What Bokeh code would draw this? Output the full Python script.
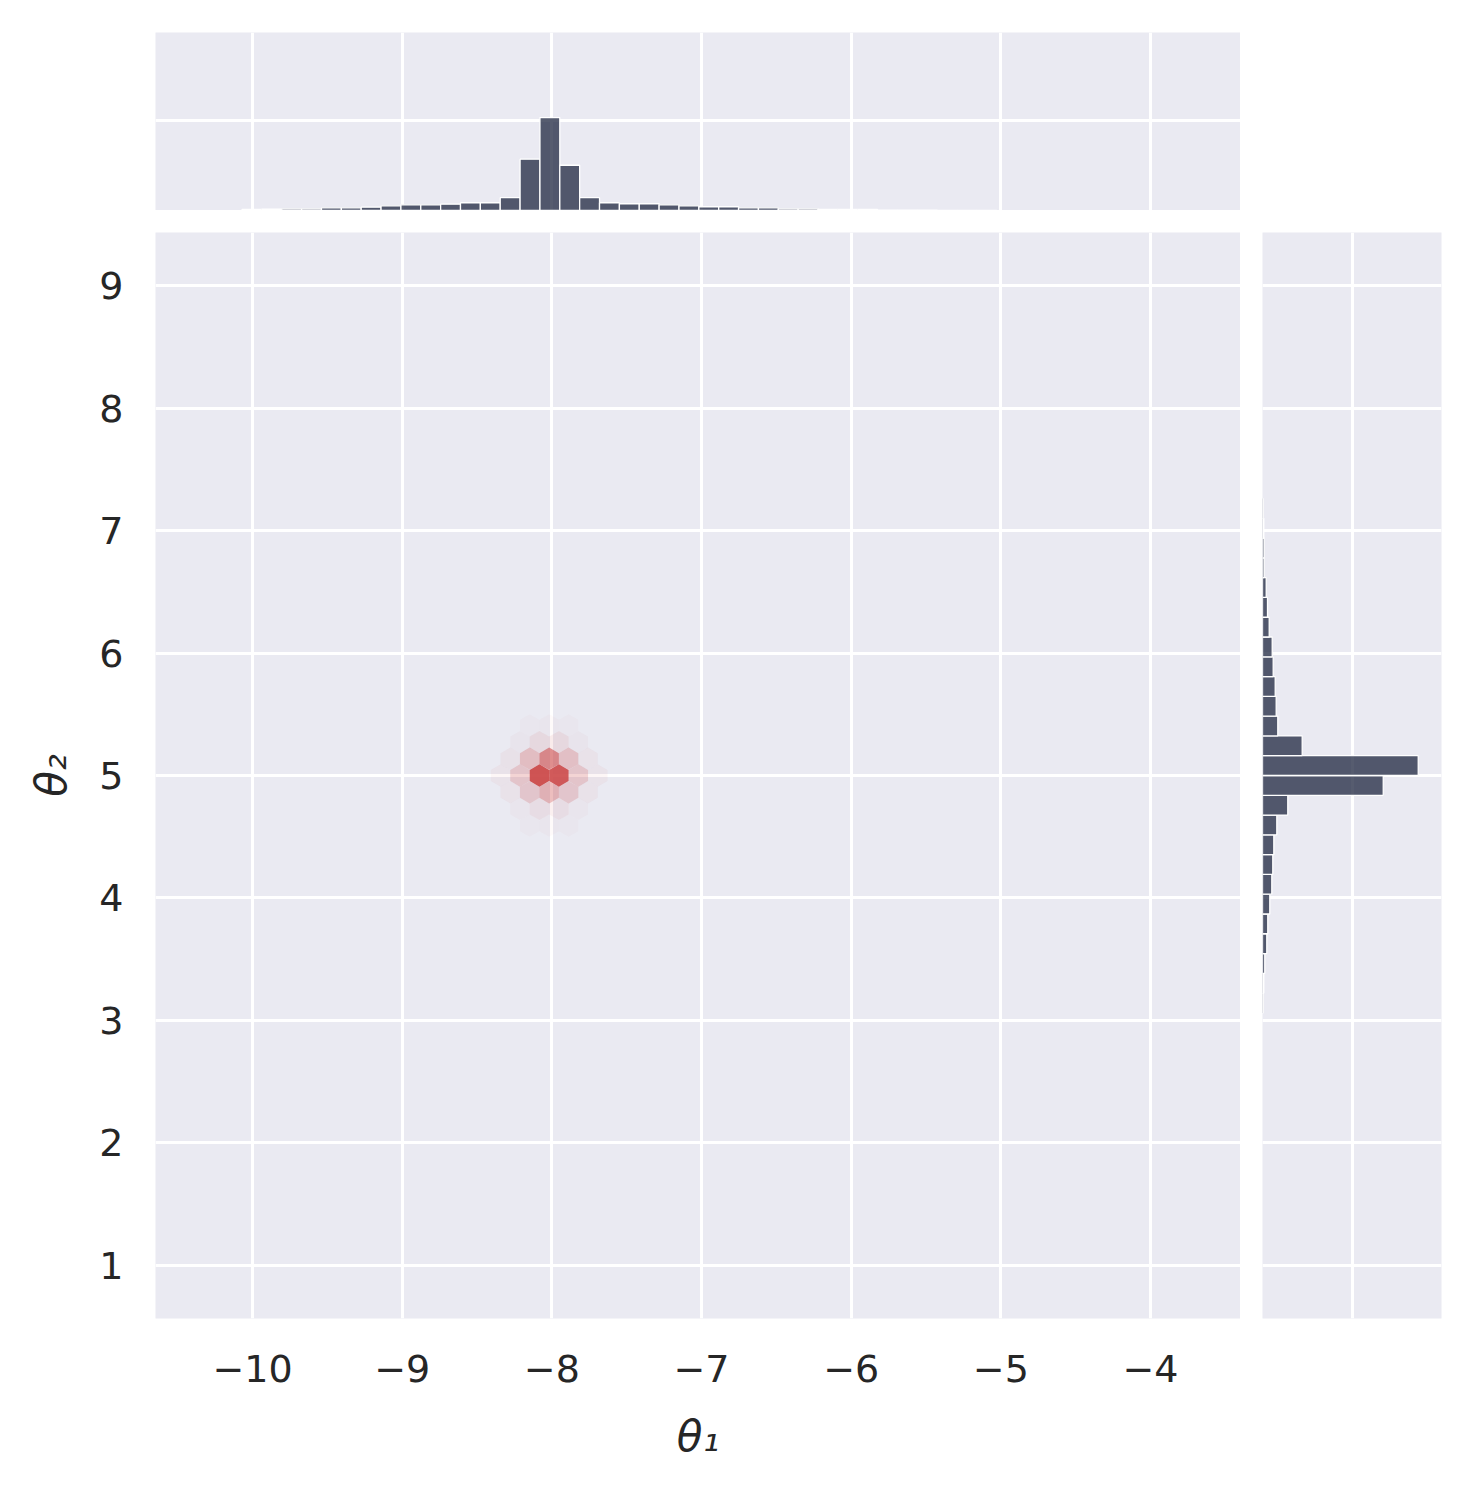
import numpy as np
from bokeh.plotting import figure
from bokeh.layouts import gridplot
from bokeh.models import FixedTicker, Range1d, CustomJSTickFormatter, ColumnDataSource
from bokeh.embed import file_html
from bokeh.resources import INLINE

# ---------------- data ----------------
theta1_ticks = [-10, -9, -8, -7, -6, -5, -4]
theta2_ticks = [1, 2, 3, 4, 5, 6, 7, 8, 9]

# marginal histogram of theta_1 (counts per bin)
theta1_bin_start = -10.07
theta1_bin_width = 0.1327
theta1_counts = [22, 29, 38, 38, 60, 60, 74, 105, 127, 127, 141, 172, 172, 284,
                 1140, 2065, 1006, 284, 172, 150, 150, 127, 105, 83, 83, 60, 60,
                 38, 38, 22, 22, 22, 9, 7, 7, 4, 4, 4]

# marginal histogram of theta_2 (counts per bin, bottom to top)
theta2_bin_start = 3.062
theta2_bin_width = 0.1615
theta2_counts = [16, 29, 51, 96, 118, 163, 208, 230, 253, 320, 565, 2698, 3480,
                 887, 342, 306, 284, 239, 217, 150, 112, 83, 38, 38, 29, 16]

# hexbin cells (centres and counts)
hex_x = [-8.343, -8.213, -8.083, -7.953, -7.823, -7.693,
         -8.278, -8.148, -8.018, -7.888, -7.758,
         -8.278, -8.148, -8.018, -7.888, -7.758,
         -8.213, -8.083, -7.953, -7.823,
         -8.213, -8.083, -7.953, -7.823,
         -8.148, -8.018, -7.888,
         -8.148, -8.018, -7.888]
hex_y = [5.0, 5.0, 5.0, 5.0, 5.0, 5.0,
         5.137, 5.137, 5.137, 5.137, 5.137,
         4.863, 4.863, 4.863, 4.863, 4.863,
         5.273, 5.273, 5.273, 5.273,
         4.727, 4.727, 4.727, 4.727,
         5.41, 5.41, 5.41,
         4.59, 4.59, 4.59]
hex_count = [5, 25, 100, 96, 25, 5,
             6, 30, 66, 28, 5,
             5, 24, 38, 24, 5,
             4, 12, 12, 4,
             3, 9, 9, 3,
             2, 3, 2,
             2, 3, 2]
hex_sx = 0.13
hex_sy = 0.273

# ---------------- style ----------------
BG = "#EAEAF2"
TXT = "#262626"
FONT = "DejaVu Sans"
BAR = "#1d263f"
HEX = "#cb4747"
GRID_W = 3

X0, X1 = -10.648, -3.399
Y0, Y1 = 0.567, 9.433

minus_fmt = CustomJSTickFormatter(code="return tick < 0 ? '\u2212' + Math.abs(tick) : String(tick);")


def style(p):
    p.background_fill_color = BG
    p.border_fill_color = "white"
    p.outline_line_color = None
    p.grid.grid_line_color = "white"
    p.grid.grid_line_width = GRID_W
    p.grid.minor_grid_line_color = None


# ---------------- main (hexbin) ----------------
main = figure(width=1240, height=1258, x_range=Range1d(X0, X1), y_range=Range1d(Y0, Y1),
              output_backend="svg", toolbar_location=None,
              min_border_left=155, min_border_right=0, min_border_top=22, min_border_bottom=150)
style(main)

xs, ys = [], []
dx = [0.5, 0.5, 0.0, -0.5, -0.5, 0.0]
dy = [-1 / 6, 1 / 6, 1 / 3, 1 / 6, -1 / 6, -1 / 3]
for cx, cy in zip(hex_x, hex_y):
    xs.append([cx + hex_sx * d for d in dx])
    ys.append([cy + hex_sy * d for d in dy])
cmax = max(hex_count)
alphas = [0.93 * c / cmax for c in hex_count]
hsrc = ColumnDataSource(dict(xs=xs, ys=ys, a=alphas))
main.patches("xs", "ys", source=hsrc, fill_color=HEX, fill_alpha="a", line_color=None)

main.xaxis.ticker = FixedTicker(ticks=theta1_ticks)
main.yaxis.ticker = FixedTicker(ticks=theta2_ticks)
main.xaxis.formatter = minus_fmt
main.xaxis.axis_label = "θ₁"
main.yaxis.axis_label = "θ₂"
for ax in (main.xaxis, main.yaxis):
    ax.axis_line_color = None
    ax.major_tick_line_color = None
    ax.minor_tick_line_color = None
    ax.major_tick_in = 0
    ax.major_tick_out = 0
    ax.major_label_text_font = FONT
    ax.major_label_text_font_size = "38px"
    ax.major_label_text_color = TXT
    ax.axis_label_text_font = FONT
    ax.axis_label_text_font_size = "42px"
    ax.axis_label_text_font_style = "italic"
    ax.axis_label_text_color = TXT
main.xaxis.major_label_standoff = 36
main.yaxis.major_label_standoff = 32
main.xaxis.axis_label_standoff = 27
main.yaxis.axis_label_standoff = 20

# ---------------- top marginal ----------------
top = figure(width=1240, height=210, x_range=main.x_range, y_range=Range1d(0, 3956),
             output_backend="svg", toolbar_location=None,
             x_axis_location=None, y_axis_location=None,
             min_border_left=155, min_border_right=0, min_border_top=32, min_border_bottom=0)
style(top)
top.xgrid.ticker = FixedTicker(ticks=theta1_ticks)
top.ygrid.ticker = FixedTicker(ticks=[2000])
e1 = theta1_bin_start + theta1_bin_width * np.arange(len(theta1_counts) + 1)
top.quad(left=e1[:-1], right=e1[1:], bottom=0, top=theta1_counts,
         fill_color=BAR, fill_alpha=0.75, line_color="white", line_width=1.3)

# ---------------- right marginal ----------------
right = figure(width=211, height=1258, x_range=Range1d(0, 4000), y_range=main.y_range,
               output_backend="svg", toolbar_location=None,
               x_axis_location=None, y_axis_location=None,
               min_border_left=22, min_border_right=10, min_border_top=22, min_border_bottom=150)
style(right)
right.xgrid.ticker = FixedTicker(ticks=[2000])
right.ygrid.ticker = FixedTicker(ticks=theta2_ticks)
e2 = theta2_bin_start + theta2_bin_width * np.arange(len(theta2_counts) + 1)
right.quad(left=0, right=theta2_counts, bottom=e2[:-1], top=e2[1:],
           fill_color=BAR, fill_alpha=0.75, line_color="white", line_width=1.3)

grid = gridplot([[top, None], [main, right]], toolbar_location=None)

open("out.html", "w").write(file_html(grid, INLINE))
